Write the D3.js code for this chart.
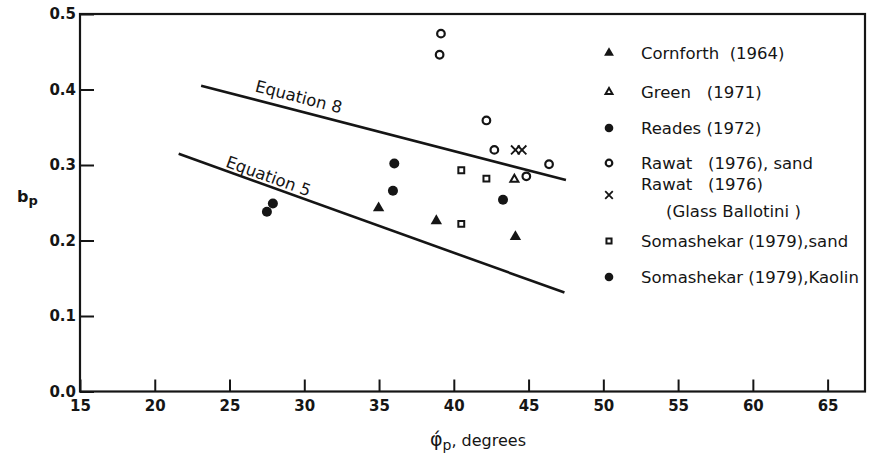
<!DOCTYPE html>
<html lang="en">
<head>
<meta charset="UTF-8">
<title>b_p versus phi'_p</title>
<script src="https://d3js.org/d3.v7.min.js"></script>
<style>
  body { margin: 0; background: #fff; }
  svg { display: block; font-family: "DejaVu Sans", sans-serif; }
  text { fill: #151515; }
</style>
</head>
<body>
<div id="chart"></div>
<script>
const xTicks = [15, 20, 25, 30, 35, 40, 45, 50, 55, 60, 65];
const yTicks = [0, 0.1, 0.2, 0.3, 0.4, 0.5];

// [phi'_p (degrees), b_p]
const cornforth = [[34.97, 0.243], [38.83, 0.226], [44.12, 0.205]];
const green = [[44.05, 0.281]];
const reades = [[35.93, 0.266], [36.02, 0.302], [43.29, 0.254]];
const rawatSand = [[39.14, 0.474], [39.05, 0.446], [42.18, 0.359], [42.71, 0.320], [44.85, 0.285], [46.37, 0.301]];
const rawatGlass = [[44.12, 0.320], [44.56, 0.320]];
const somaSand = [[40.5, 0.293], [42.18, 0.282], [40.5, 0.222]];
const somaKaolin = [[27.5, 0.238], [27.9, 0.249]];

const equation8 = [[23.1, 0.405], [47.5, 0.280]];
const equation5 = [[21.6, 0.315], [47.4, 0.131]];

const legendLabels = ["Cornforth  (1964)", "Green   (1971)", "Reades (1972)", "Rawat   (1976), sand",
  "Rawat   (1976)", "Somashekar (1979),sand", "Somashekar (1979),Kaolin"];

const W = 869, H = 456;
const svg = d3.select("#chart").append("svg").attr("width", W).attr("height", H);

const x = d3.scaleLinear().domain([15, 67.5]).range([80, 865]);
const y = d3.scaleLinear().domain([0, 0.5]).range([391.5, 14]);

// axes with inward ticks
const yAxis = svg.append("g")
  .attr("transform", "translate(80,0)")
  .call(d3.axisLeft(y).tickValues(yTicks).tickSize(-14).tickPadding(4).tickFormat(d3.format(".1f")));
const xAxis = svg.append("g")
  .attr("transform", "translate(0,391.5)")
  .call(d3.axisBottom(x).tickValues(xTicks).tickSize(-12).tickPadding(9));

[yAxis, xAxis].forEach(g => {
  g.select(".domain").remove();
  g.selectAll(".tick line").attr("stroke", "#151515").attr("stroke-width", 2);
  g.selectAll(".tick text").attr("fill", "#151515").attr("font-size", "15px").attr("font-weight", "bold")
    .attr("font-family", "DejaVu Sans, sans-serif");
});

// frame
svg.append("rect")
  .attr("x", x(15)).attr("y", y(0.5))
  .attr("width", x(67.5) - x(15)).attr("height", y(0) - y(0.5))
  .attr("fill", "none").attr("stroke", "#151515").attr("stroke-width", 2.2);

// equation lines
const line = d3.line().x(d => x(d[0])).y(d => y(d[1]));
function eqLine(pts, label, at, off) {
  svg.append("path").datum(pts).attr("d", line)
    .attr("fill", "none").attr("stroke", "#151515").attr("stroke-width", 2.6);
  const x1 = x(pts[0][0]), y1 = y(pts[0][1]), x2 = x(pts[1][0]), y2 = y(pts[1][1]);
  const ang = Math.atan2(y2 - y1, x2 - x1) * 180 / Math.PI;
  const px = x(at), py = y1 + (y2 - y1) * (px - x1) / (x2 - x1);
  svg.append("text")
    .attr("transform", `translate(${px},${py}) rotate(${ang})`)
    .attr("y", -off)
    .attr("text-anchor", "middle")
    .attr("font-size", "16.5px")
    .text(label);
}
eqLine(equation8, "Equation 8", 29.4, 8);
eqLine(equation5, "Equation 5", 27.4, 3.5);

// markers
function marker(g, kind, cx, cy, s) {
  const t = `translate(${cx},${cy})`;
  if (kind === "triF") {
    g.append("path").attr("d", d3.symbol(d3.symbolTriangle, 56 * s)()).attr("transform", t).attr("fill", "#151515");
  } else if (kind === "triO") {
    g.append("path").attr("d", d3.symbol(d3.symbolTriangle2, 46 * s)()).attr("transform", t)
      .attr("fill", "none").attr("stroke", "#151515").attr("stroke-width", 2);
  } else if (kind === "cirF") {
    g.append("circle").attr("cx", cx).attr("cy", cy).attr("r", 5 * Math.sqrt(s)).attr("fill", "#151515");
  } else if (kind === "cirO") {
    g.append("circle").attr("cx", cx).attr("cy", cy).attr("r", 3.8 * Math.sqrt(s))
      .attr("fill", "none").attr("stroke", "#151515").attr("stroke-width", 2.2);
  } else if (kind === "times") {
    g.append("path").attr("d", d3.symbol(d3.symbolTimes, 52 * s)()).attr("transform", t)
      .attr("fill", "none").attr("stroke", "#151515").attr("stroke-width", 1.8);
  } else if (kind === "sqO") {
    g.append("path").attr("d", d3.symbol(d3.symbolSquare2, 44 * s)()).attr("transform", t)
      .attr("fill", "none").attr("stroke", "#151515").attr("stroke-width", 2);
  }
}

const series = [
  { data: cornforth, kind: "triF" },
  { data: green, kind: "triO" },
  { data: reades, kind: "cirF" },
  { data: rawatSand, kind: "cirO" },
  { data: rawatGlass, kind: "times" },
  { data: somaSand, kind: "sqO" },
  { data: somaKaolin, kind: "cirF" }
];

const pts = svg.append("g");
series.forEach(sr => sr.data.forEach(d => marker(pts, sr.kind, x(d[0]), y(d[1]), 1)));

// legend
const legendY = [53, 92, 128, 163, 195, 241, 277];
const lg = svg.append("g");
series.forEach((sr, i) => {
  marker(lg, sr.kind, 609, legendY[i], 0.75);
  lg.append("text")
    .attr("x", 641).attr("y", i === 4 ? legendY[i] - 5 : legendY[i] + 6)
    .attr("font-size", "16.5px")
    .style("white-space", "pre")
    .text(legendLabels[i]);
});
lg.append("text")
  .attr("x", 666).attr("y", 217)
  .attr("font-size", "16.5px")
  .style("white-space", "pre")
  .text("(Glass Ballotini )");

// axis titles
const xt = svg.append("text").attr("x", 430).attr("y", 446).attr("font-size", "16px");
xt.append("tspan").attr("font-size", "19px").text("\u03c6\u0301");
xt.append("tspan").attr("dy", 4).attr("font-size", "14px").text("p");
xt.append("tspan").attr("dy", -4).text(", degrees");

const yt = svg.append("text").attr("x", 17).attr("y", 202).attr("font-size", "16px").attr("font-weight", "bold");
yt.append("tspan").text("b");
yt.append("tspan").attr("dy", 3).attr("font-size", "13px").text("p");
</script>
</body>
</html>
